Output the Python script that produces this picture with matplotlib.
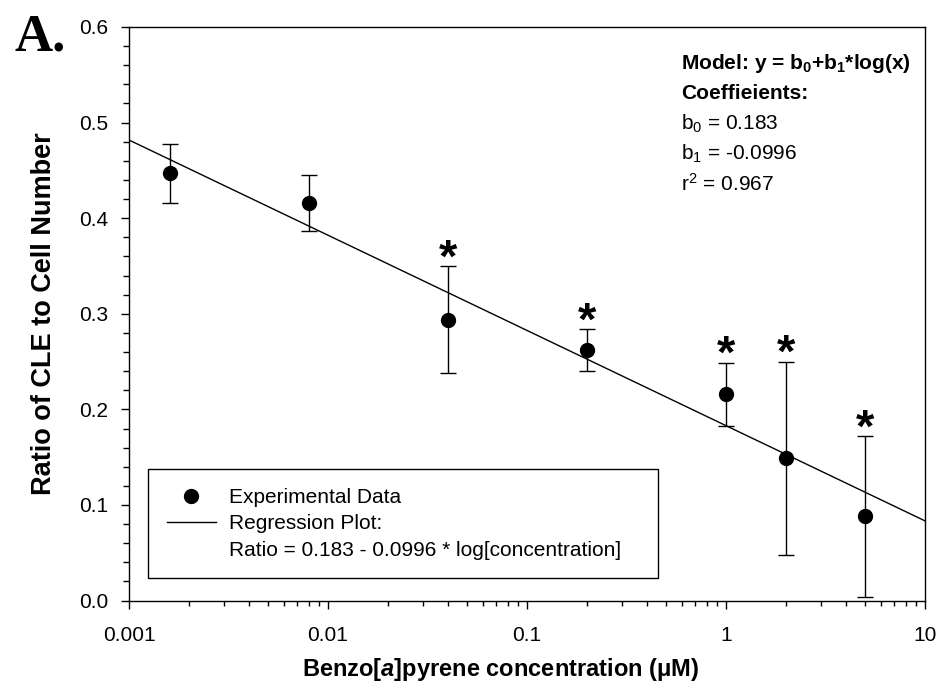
import numpy as np
import matplotlib.pyplot as plt
from matplotlib.lines import Line2D
from matplotlib.ticker import LogLocator, MultipleLocator, NullFormatter, FormatStrFormatter

plt.rcParams['font.family'] = ['Liberation Sans', 'DejaVu Sans']
plt.rcParams['mathtext.fontset'] = 'custom'
plt.rcParams['mathtext.rm'] = 'Liberation Sans'
plt.rcParams['mathtext.bf'] = 'Liberation Sans:bold'
plt.rcParams['mathtext.it'] = 'Liberation Sans:italic'
plt.rcParams['mathtext.bfit'] = 'Liberation Sans:italic:bold'

# B[a]P dose (uM) vs CLE / cell number, mean +/- error
conc = [0.0016, 0.008, 0.04, 0.2, 1, 2, 5]
ratio = [0.447, 0.416, 0.294, 0.262, 0.216, 0.149, 0.088]
err = [0.031, 0.029, 0.056, 0.022, 0.033, 0.101, 0.084]
signif = [False, False, True, True, True, True, True]

# log fit coefficients
b0 = 0.183
b1 = -0.0996
r2 = 0.967

xticks = [0.001, 0.01, 0.1, 1, 10]
xticklabels = ['0.001', '0.01', '0.1', '1', '10']

fig = plt.figure(figsize=(9.4, 6.87), dpi=100)
ax = fig.add_axes([0.1372, 0.1258, 0.8468, 0.8349])

xfit = np.logspace(-3, 1, 200)
yfit = b0 + b1 * np.log10(xfit)
ax.plot(xfit, yfit, color='k', lw=1.0)

ax.errorbar(conc, ratio, yerr=err, fmt='o', color='k', ms=10,
            elinewidth=1.0, capsize=6, capthick=1.0)

# significance marks above the error bars
for x, y, e, s in zip(conc, ratio, err, signif):
    if s:
        ax.annotate('*', (x, y + e), xytext=(0, -4), textcoords='offset points',
                    ha='center', va='baseline', fontsize=34, fontweight='bold')

ax.set_xscale('log')
ax.set_xlim(0.001, 10)
ax.set_ylim(0, 0.6)
ax.set_xticks(xticks, xticklabels)
ax.xaxis.set_minor_locator(LogLocator(base=10, subs=np.arange(2, 10)))
ax.xaxis.set_minor_formatter(NullFormatter())
ax.yaxis.set_major_locator(MultipleLocator(0.1))
ax.yaxis.set_minor_locator(MultipleLocator(0.02))
ax.yaxis.set_major_formatter(FormatStrFormatter('%.1f'))

ax.tick_params(which='both', direction='out', top=False, right=False,
               width=1.0, labelsize=15)
ax.tick_params(axis='x', which='major', length=6, pad=12)
ax.tick_params(axis='x', which='minor', length=3.5)
ax.tick_params(axis='y', which='major', length=6, pad=9)
ax.tick_params(axis='y', which='minor', length=4)
for sp in ax.spines.values():
    sp.set_linewidth(1.0)

ax.set_xlabel(r'Benzo[$\mathbfit{a}$]pyrene concentration ($\mathbf{\mu}$M)',
              fontsize=17, fontweight='bold')
ax.xaxis.set_label_coords(0.467, -0.097)
ax.set_ylabel('Ratio of CLE to Cell Number', fontsize=19.5, fontweight='bold')
ax.yaxis.set_label_coords(-0.091, 0.5)

# model summary, upper right
info = [r'Model: y = b$_\mathbf{0}$+b$_\mathbf{1}$*log(x)',
        'Coeffieients:',
        r'b$_0$ = %.3f' % b0,
        r'b$_1$ = %.4f' % b1,
        r'r$^2$ = %.3f' % r2]
weights = ['bold', 'bold', 'normal', 'normal', 'normal']
ypos = [0.936, 0.884, 0.832, 0.778, 0.726]
for s, w, yy in zip(info, weights, ypos):
    ax.text(0.6935, yy, s, transform=ax.transAxes, fontsize=15,
            fontweight=w, va='center')

handles = [Line2D([], [], marker='o', ls='none', color='k', ms=10),
           Line2D([], [], color='k', lw=1.0),
           Line2D([], [], ls='none')]
labels = ['Experimental Data', 'Regression Plot:',
          'Ratio = %.3f - %.4f * log[concentration]' % (b0, -b1)]
leg = ax.legend(handles, labels, loc='lower left',
                bbox_to_anchor=(0.0242, 0.0389, 0.64, 0.1935), mode='expand',
                fontsize=15, frameon=True, fancybox=False, framealpha=1,
                edgecolor='k', borderpad=0.9, labelspacing=0.35,
                handlelength=2.35, handletextpad=0.63, borderaxespad=0)
leg.get_frame().set_linewidth(1.0)

fig.text(0.0149, 0.926, 'A.', family='Liberation Serif', fontweight='bold',
         fontsize=38, va='baseline')

fig.savefig('out.png', dpi=100)
